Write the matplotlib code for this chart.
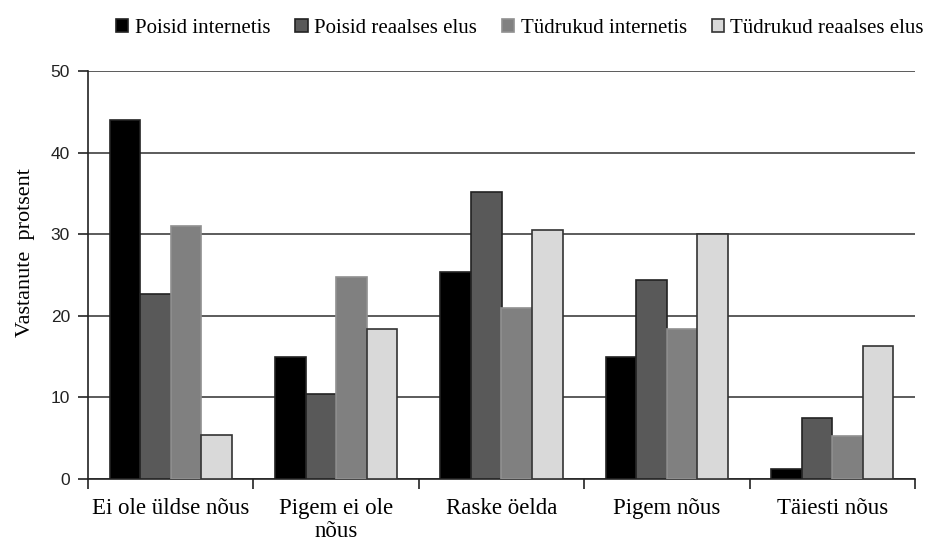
import matplotlib
matplotlib.use("Agg")
import matplotlib.pyplot as plt
import numpy as np

plt.rcParams['font.family'] = ['Liberation Serif', 'DejaVu Serif']

categories = ["Ei ole üldse nõus", "Pigem ei ole\nnõus", "Raske öelda", "Pigem nõus", "Täiesti nõus"]
series_names = ["Poisid internetis", "Poisid reaalses elus", "Tüdrukud internetis", "Tüdrukud reaalses elus"]
poisid_internetis = [44.0, 15.0, 25.4, 15.0, 1.2]
poisid_reaalses = [22.7, 10.4, 35.2, 24.4, 7.5]
tudrukud_internetis = [31.0, 24.8, 21.0, 18.4, 5.3]
tudrukud_reaalses = [5.4, 18.4, 30.5, 30.0, 16.3]
yticks = [0, 10, 20, 30, 40, 50]

series = [poisid_internetis, poisid_reaalses, tudrukud_internetis, tudrukud_reaalses]
colors = ["#000000", "#595959", "#808080", "#d9d9d9"]
edges = ["#222222", "#222222", "#909090", "#333333"]

fig = plt.figure(figsize=(9.31, 5.40), dpi=100)
ax = fig.add_axes([88/931, 1-479/540, (915-88)/931, (479-71)/540])

x = np.arange(len(categories))
w = 0.185
for i, (vals, c, e, n) in enumerate(zip(series, colors, edges, series_names)):
    ax.bar(x + (i - 1.5) * w, vals, w, color=c, edgecolor=e, linewidth=1.2, label=n, zorder=3)

ax.set_xlim(-0.5, len(categories) - 0.5)
ax.set_ylim(0, 50)
ax.set_yticks(yticks)
ax.yaxis.grid(True, color="#404040", linewidth=1.2, zorder=0)
ax.set_axisbelow(True)
for s in ["top", "right"]:
    ax.spines[s].set_visible(False)
ax.spines["left"].set_color("#222222")
ax.spines["bottom"].set_color("#222222")
ax.spines["left"].set_linewidth(1.2)
ax.spines["bottom"].set_linewidth(1.2)

ax.set_xticks(x)
ax.set_xticklabels(categories, fontsize=16.5, linespacing=1.08)
ax.tick_params(axis="x", length=0, pad=14)
ax.set_xticks(np.arange(len(categories) + 1) - 0.5, minor=True)
ax.tick_params(axis="x", which="minor", length=7, width=1.2, color="#222222", direction="out")
ax.tick_params(axis="y", labelsize=12.5, length=7, width=1.2, color="#222222", direction="out", pad=6)
for lbl in ax.get_yticklabels():
    lbl.set_fontfamily(['Liberation Sans', 'DejaVu Sans'])
    lbl.set_color("#222222")
ax.set_ylabel("Vastanute  protsent", fontsize=16)
ax.yaxis.set_label_coords(-0.064, 0.556)

fig.legend(loc="upper center", bbox_to_anchor=(0.5585, 1.0), ncol=4, frameon=False,
           fontsize=15, handlelength=0.6, handleheight=0.6, handletextpad=0.3, columnspacing=1.2)

fig.savefig("out.png", dpi=100)
